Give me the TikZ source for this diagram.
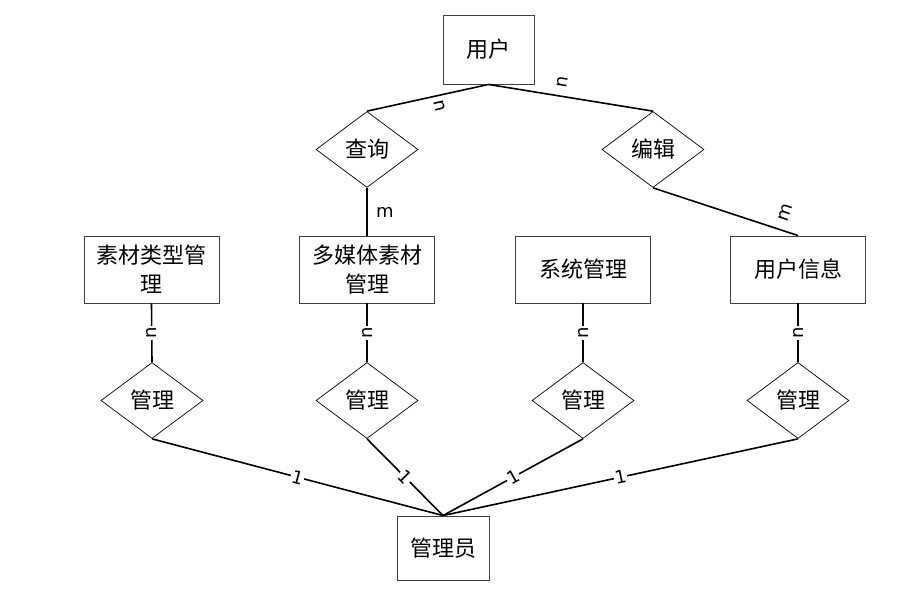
\documentclass[tikz,border=0pt]{standalone}
\usepackage{fontspec}
\setmainfont{DejaVu Sans}
\newfontfamily\cjk{Noto Sans CJK SC}
\usetikzlibrary{shapes, arrows}
\tikzstyle{entity} = [rectangle, draw=black!75, line width=0.9pt, minimum width=135pt, minimum height=67pt, align=center, font=\cjk\fontsize{22}{29}\selectfont]
\tikzstyle{relation} = [diamond, draw=black, line width=0.7pt, aspect=1.32, inner sep=0pt, minimum width=102pt, minimum height=76pt, font=\cjk\fontsize{22}{29}\selectfont]
\tikzstyle{link} = [line width=1.6pt]
\tikzstyle{card} = [font=\fontsize{18}{18}\selectfont, inner sep=1pt]
\tikzstyle{oncard} = [card, fill=white]

\begin{document}
\begin{tikzpicture}[x=1pt, y=-1pt]
\useasboundingbox (0,0) rectangle (905,596);

% entities
\node[entity, minimum width=91pt, minimum height=69pt] (user) at (488.5,49.5) {用户};
\node[entity] (mtype) at (151.5,269.5) {素材类型管\\理};
\node[entity] (media) at (367,269.5) {多媒体素材\\管理};
\node[entity] (system) at (583,269.5) {系统管理};
\node[entity] (uinfo) at (798,269.5) {用户信息};
\node[entity, minimum width=92pt, minimum height=64pt] (admin) at (443,548) {管理员};

% relations
\node[relation] (query) at (367,149.5) {查询};
\node[relation] (edit) at (653,149.5) {编辑};
\node[relation] (mgr1) at (152,400.5) {管理};
\node[relation] (mgr2) at (367,400.5) {管理};
\node[relation] (mgr3) at (583,400.5) {管理};
\node[relation] (mgr4) at (798,400.5) {管理};

% top links
\draw[link] (user.south) -- (query.north) node[card, pos=0.4, yshift=-11pt, rotate=-77] (c1) {n};
\draw[link] (user.south) -- (edit.north) node[card, pos=0.45, yshift=14pt, rotate=81] (c2) {n};
\draw[link] (query.south) -- (media.north) node[card, pos=0.52, xshift=18pt] (c3) {m};
\draw[link] (edit.south) -- (uinfo.north) node[card, pos=0.91, yshift=19pt, rotate=72] (c4) {m};

% entity to manage
\foreach \e/\r in {mtype/mgr1, media/mgr2, system/mgr3, uinfo/mgr4}
  \draw[link] (\e.south) -- (\r.north) node[oncard, midway, rotate=90] {n};

% manage to admin
\foreach \r in {mgr1, mgr2, mgr3, mgr4}
  \draw[link] (\r.south) -- (admin.north) node[oncard, midway, sloped] {1};
\end{tikzpicture}
\end{document}
